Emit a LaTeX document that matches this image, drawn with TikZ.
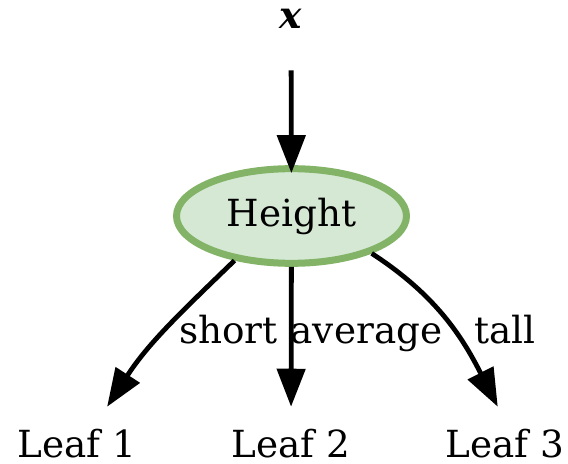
\documentclass[tikz,border=0pt]{standalone}
\usepackage{fontspec}
\setmainfont{DejaVu Serif}
\usepackage{tikz}
\usetikzlibrary{arrows.meta,shapes.geometric}
\definecolor{gLine}{RGB}{130,179,102}
\definecolor{gFill}{RGB}{213,232,212}
\tikzset{
  split/.style={ellipse, draw=gLine, fill=gFill, line width=5.25pt,
                minimum width=172.5pt, minimum height=71pt, inner sep=0pt,
                font=\fontsize{28}{33}\selectfont},
  leaf/.style={anchor=base, inner sep=0pt, text height=37.5pt, text depth=0pt,
               font=\fontsize{28}{33}\selectfont},
  lbl/.style={anchor=base, inner sep=0pt, font=\fontsize{28}{33}\selectfont},
  flow/.style={-{Triangle[length=28.5pt, width=21pt]}, line width=3.6pt},
}
\begin{document}
\begin{tikzpicture}[x=0.75pt, y=-0.75pt]
  \useasboundingbox (0,0) rectangle (568,464);
  \node[inner sep=0pt, font=\fontsize{28}{33}\selectfont\bfseries\itshape] (xin) at (291,18.5) {x};
  \node[split] (hgt) at (291.5,216) {Height};
  \node[leaf] (leaf1) at (77,457) {Leaf 1};
  \node[leaf] (leaf2) at (291,457) {Leaf 2};
  \node[leaf] (leaf3) at (505,457) {Leaf 3};
  % edges
  \draw[flow, shorten <=31.5pt, shorten >=-6pt] (xin) -- (hgt);
  \draw[flow] (hgt.218) to[out=224, in=57] (leaf1.40);
  \draw[flow] (hgt) -- (leaf2);
  \draw[flow] (hgt.335) to[out=327, in=117] (leaf3.106);
  % labels
  \node[lbl] (lshort) at (228.5,343) {short};
  \node[lbl] (lavg) at (366.5,343) {average};
  \node[lbl] (ltall) at (505,343) {tall};
\end{tikzpicture}
\end{document}
